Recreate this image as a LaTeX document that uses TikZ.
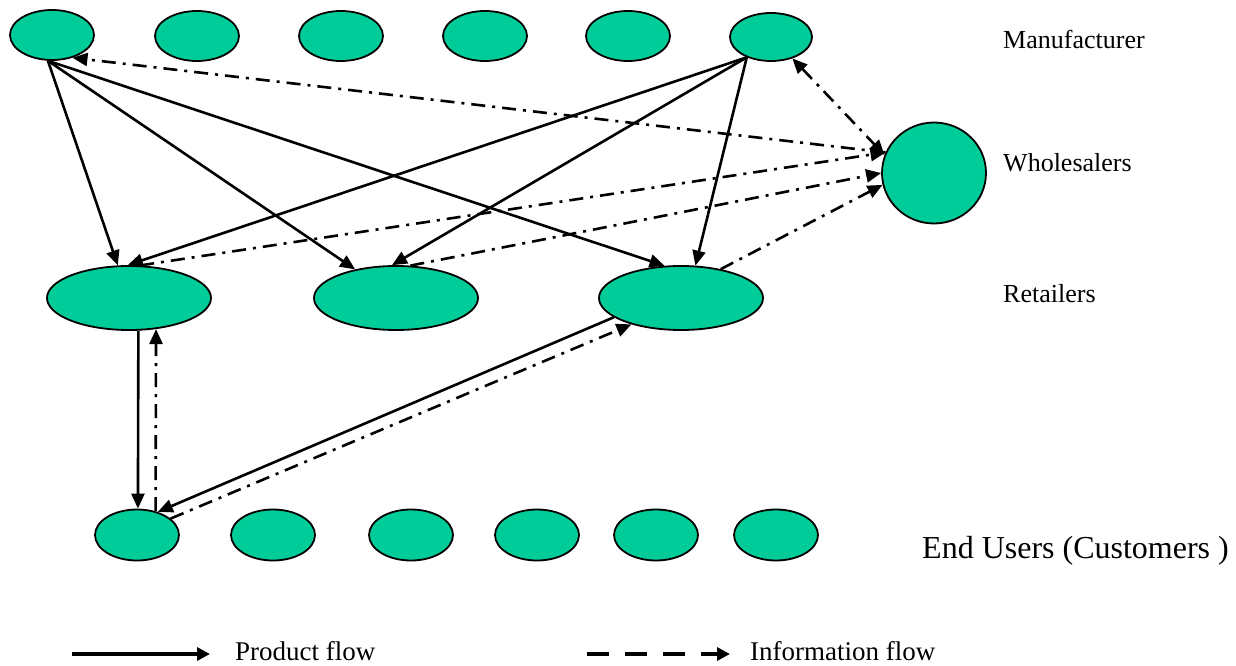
\documentclass[tikz,border=0pt]{standalone}
\usepackage{fontspec}
\setmainfont{Liberation Serif}
\usetikzlibrary{shapes.geometric,arrows.meta}
\definecolor{nodegreen}{RGB}{0,204,153}
\tikzset{
  party/.style={ellipse, draw=black, line width=1.8pt, fill=nodegreen, inner sep=0pt},
  small/.style={party, minimum width=84pt, minimum height=50pt},
  shop/.style={party, minimum width=164pt, minimum height=64pt},
  hub/.style={party, minimum width=104pt, minimum height=101pt},
  tip/.style={-{Triangle[length=15pt,width=13pt]}},
  prod/.style={line width=2.6pt, tip},
  dashdot/.style={line width=2.6pt, dash pattern=on 14pt off 7pt on 3pt off 7pt},
  info/.style={dashdot, tip},
  infoboth/.style={dashdot,
    {Triangle[length=15pt,width=13pt]}-{Triangle[length=15pt,width=13pt]}},
  tier/.style={anchor=base west, inner sep=0pt, font=\fontsize{26}{30}\selectfont},
  keytext/.style={anchor=base west, inner sep=0pt, font=\fontsize{27}{31}\selectfont},
}
\begin{document}
\begin{tikzpicture}[x=1pt,y=-1pt]
\useasboundingbox (0,0) rectangle (1236,666);

% manufacturers
\node[small] (m1) at (52,35) {};
\node[small] (m2) at (197,36) {};
\node[small] (m3) at (341,36) {};
\node[small] (m4) at (485,36) {};
\node[small] (m5) at (628,36) {};
\node[small, minimum width=82pt, minimum height=48pt] (m6) at (771,37) {};

% wholesaler
\node[hub] (w) at (934,173) {};

% retailers
\node[shop] (r1) at (129,298) {};
\node[shop] (r2) at (396,298) {};
\node[shop] (r3) at (681,298) {};

% end users
\node[small, minimum height=51pt] (e1) at (137,535) {};
\node[small, minimum height=51pt] (e2) at (273,535) {};
\node[small, minimum height=51pt] (e3) at (411,535) {};
\node[small, minimum height=51pt] (e4) at (537,535) {};
\node[small, minimum height=51pt] (e5) at (656,535) {};
\node[small, minimum height=51pt] (e6) at (776,535) {};

% tier labels
\node[tier] (lm) at (1003,49) {Manufacturer};
\node[tier] (lw) at (1003,171) {Wholesalers};
\node[tier] (lr) at (1003,302) {Retailers};
\node[tier, font=\fontsize{32}{36}\selectfont] (le) at (922,558) {End Users (Customers )};

% product flow
\draw[prod] (m1.-99) -- (r1.109);
\draw[prod] (m1.-99) -- (r2.145);
\draw[prod] (m1.-99) -- (r3.117);
\draw[prod] (m6.-140) -- (r1.92);
\draw[prod] (m6.-140) -- (r2.97);
\draw[prod] (m6.-140) -- (r3.66);
\draw[prod] (r1.-74) -- (e1.88);
\draw[prod] (r3.196) -- (e1.48);

% information flow
\draw[info] (w.157) -- (m1.-48);
\draw[infoboth] (m6.-45) -- (w.160);
\draw[info] (r1.71) -- (w.157);
\draw[info] (r2.66) -- (w.180);
\draw[info] (r3.36) -- (w.193);
\draw[info] (e1.52) -- (r1.-49);
\draw[info] (e1.26) -- (r3.208);

% key
\coordinate (pa) at (72,654);
\coordinate (pb) at (210,654);
\draw[line width=4pt, -{Triangle[length=13pt,width=13pt]}] (pa) -- (pb);
\node[keytext] (kp) at (235,660) {Product flow};
\coordinate (ia) at (587,654);
\coordinate (ib) at (730,654);
\draw[line width=4pt, dash pattern=on 22pt off 16pt, -{Triangle[length=13pt,width=13pt]}] (ia) -- (ib);
\node[keytext] (ki) at (750,660) {Information flow};
\end{tikzpicture}
\end{document}
